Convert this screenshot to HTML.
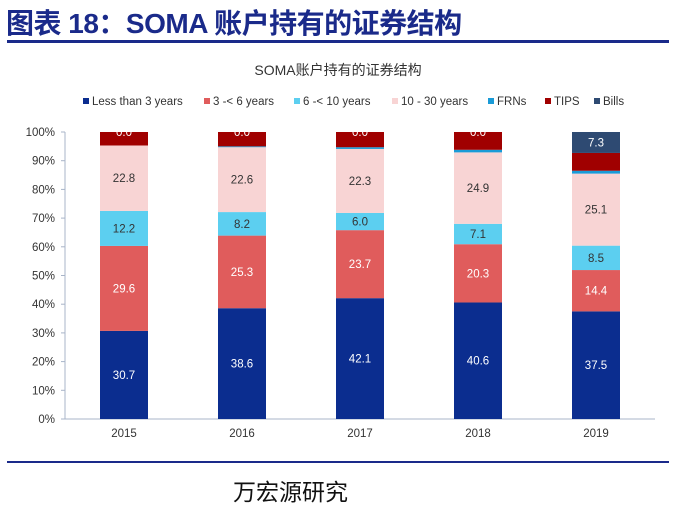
<!DOCTYPE html>
<html><head><meta charset="utf-8"><style>
body{margin:0;width:677px;height:507px;background:#fff;overflow:hidden;font-family:"Liberation Sans","Noto Sans CJK SC",sans-serif}
</style></head><body>
<div style="position:absolute;left:6px;top:2px;font-size:28px;font-weight:bold;color:#1a2a8a;font-family:'Liberation Sans','Noto Sans CJK SC',sans-serif;letter-spacing:-0.5px;white-space:nowrap">图表 18：SOMA 账户持有的证券结构</div>
<div style="position:absolute;left:7px;top:40px;width:662px;height:3px;background:#1a2a8a"></div>
<svg id="chart" width="677" height="507" style="position:absolute;left:0;top:0"></svg>
<div style="position:absolute;left:7px;top:461px;width:662px;height:2px;background:#1a2a8a"></div>
<div style="position:absolute;left:233px;top:473px;font-size:23px;color:#111">万宏源研究</div>
<script>
const years=["2015","2016","2017","2018","2019"];
const lessThan3=[30.7,38.6,42.1,40.6,37.5];
const y3to6=[29.6,25.3,23.7,20.3,14.4];
const y6to10=[12.2,8.2,6.0,7.1,8.5];
const y10to30=[22.8,22.6,22.3,24.9,25.1];
const frns=[0.0,0.3,0.6,0.9,1.0];
const tips=[4.7,5.0,5.3,6.2,6.2];
const bills=[0.0,0.0,0.0,0.0,7.3];
const seriesNames=["Less than 3 years","3 -< 6 years","6 -< 10 years","10 - 30 years","FRNs","TIPS","Bills"];
const seriesData=[lessThan3,y3to6,y6to10,y10to30,frns,tips,bills];
const colors=["#0b2d8f","#e05c5c","#5ccff0","#f8d4d4","#1a9bd7","#a00000","#2e4a72"];
const labelColors=["#fff","#fff","#333","#333",null,null,"#fff"];
const yTicks=[0,10,20,30,40,50,60,70,80,90,100];
const svg=document.getElementById('chart');
const NS="http://www.w3.org/2000/svg";
const y0=419,y1=132,xL=65,xR=655;
const yS=v=>y0-(y0-y1)*v/100;
const band=(xR-xL)/years.length;
const xC=i=>xL+band*(i+0.5);
const bw=48;
function mk(t,a){const e=document.createElementNS(NS,t);for(const k in a)e.setAttribute(k,a[k]);svg.appendChild(e);return e;}
let t=mk('text',{x:338,y:75,'text-anchor':'middle','font-size':14,fill:'#333'});t.textContent="SOMA账户持有的证券结构";


const legX=[83,204,294,392,488,545,594];
seriesNames.forEach((n,i)=>{
 const r=mk('rect',{x:legX[i],y:98,width:6,height:6,fill:colors[i]});
 
 
 const tx=mk('text',{x:legX[i]+9,y:105,'font-size':11.5,fill:'#333'});tx.textContent=n;
 
 
});
const ax=mk('line',{x1:xL,y1:y1,x2:xL,y2:y0,stroke:'#a8b4c8'});


const xa=mk('line',{x1:xL,y1:y0,x2:xR,y2:y0,stroke:'#a8b4c8'});


yTicks.forEach(v=>{
 const l=mk('line',{x1:xL-4,y1:yS(v),x2:xL,y2:yS(v),stroke:'#a8b4c8'});
 
 
 const tx=mk('text',{x:xL-10,y:yS(v)+4,'text-anchor':'end','font-size':11.5,fill:'#333'});tx.textContent=v+"%";
 
 
});
years.forEach((yr,i)=>{
 let cum=0;
 seriesData.forEach((s,k)=>{
  const v=s[i];
  if(v>0){
   const r=mk('rect',{x:xC(i)-bw/2,y:yS(cum+v),width:bw,height:yS(cum)-yS(cum+v),fill:colors[k]});
   
   
   if(labelColors[k]&&(k<4||k==6)){
    const tx=mk('text',{x:xC(i),y:(yS(cum)+yS(cum+v))/2+4,'text-anchor':'middle','font-size':11.5,fill:labelColors[k]});
    tx.textContent=v.toFixed(1);
    
    
   }
  }
  cum+=v;
 });
 if(bills[i]===0){
  const tx=mk('text',{x:xC(i),y:yS(100)+4,'text-anchor':'middle','font-size':11.5,fill:'#fff'});
  tx.textContent="0.0";
  
  
 }
 const tx=mk('text',{x:xC(i),y:437,'text-anchor':'middle','font-size':11.5,fill:'#333'});tx.textContent=yr;
 
 
});
</script>
</body></html>
